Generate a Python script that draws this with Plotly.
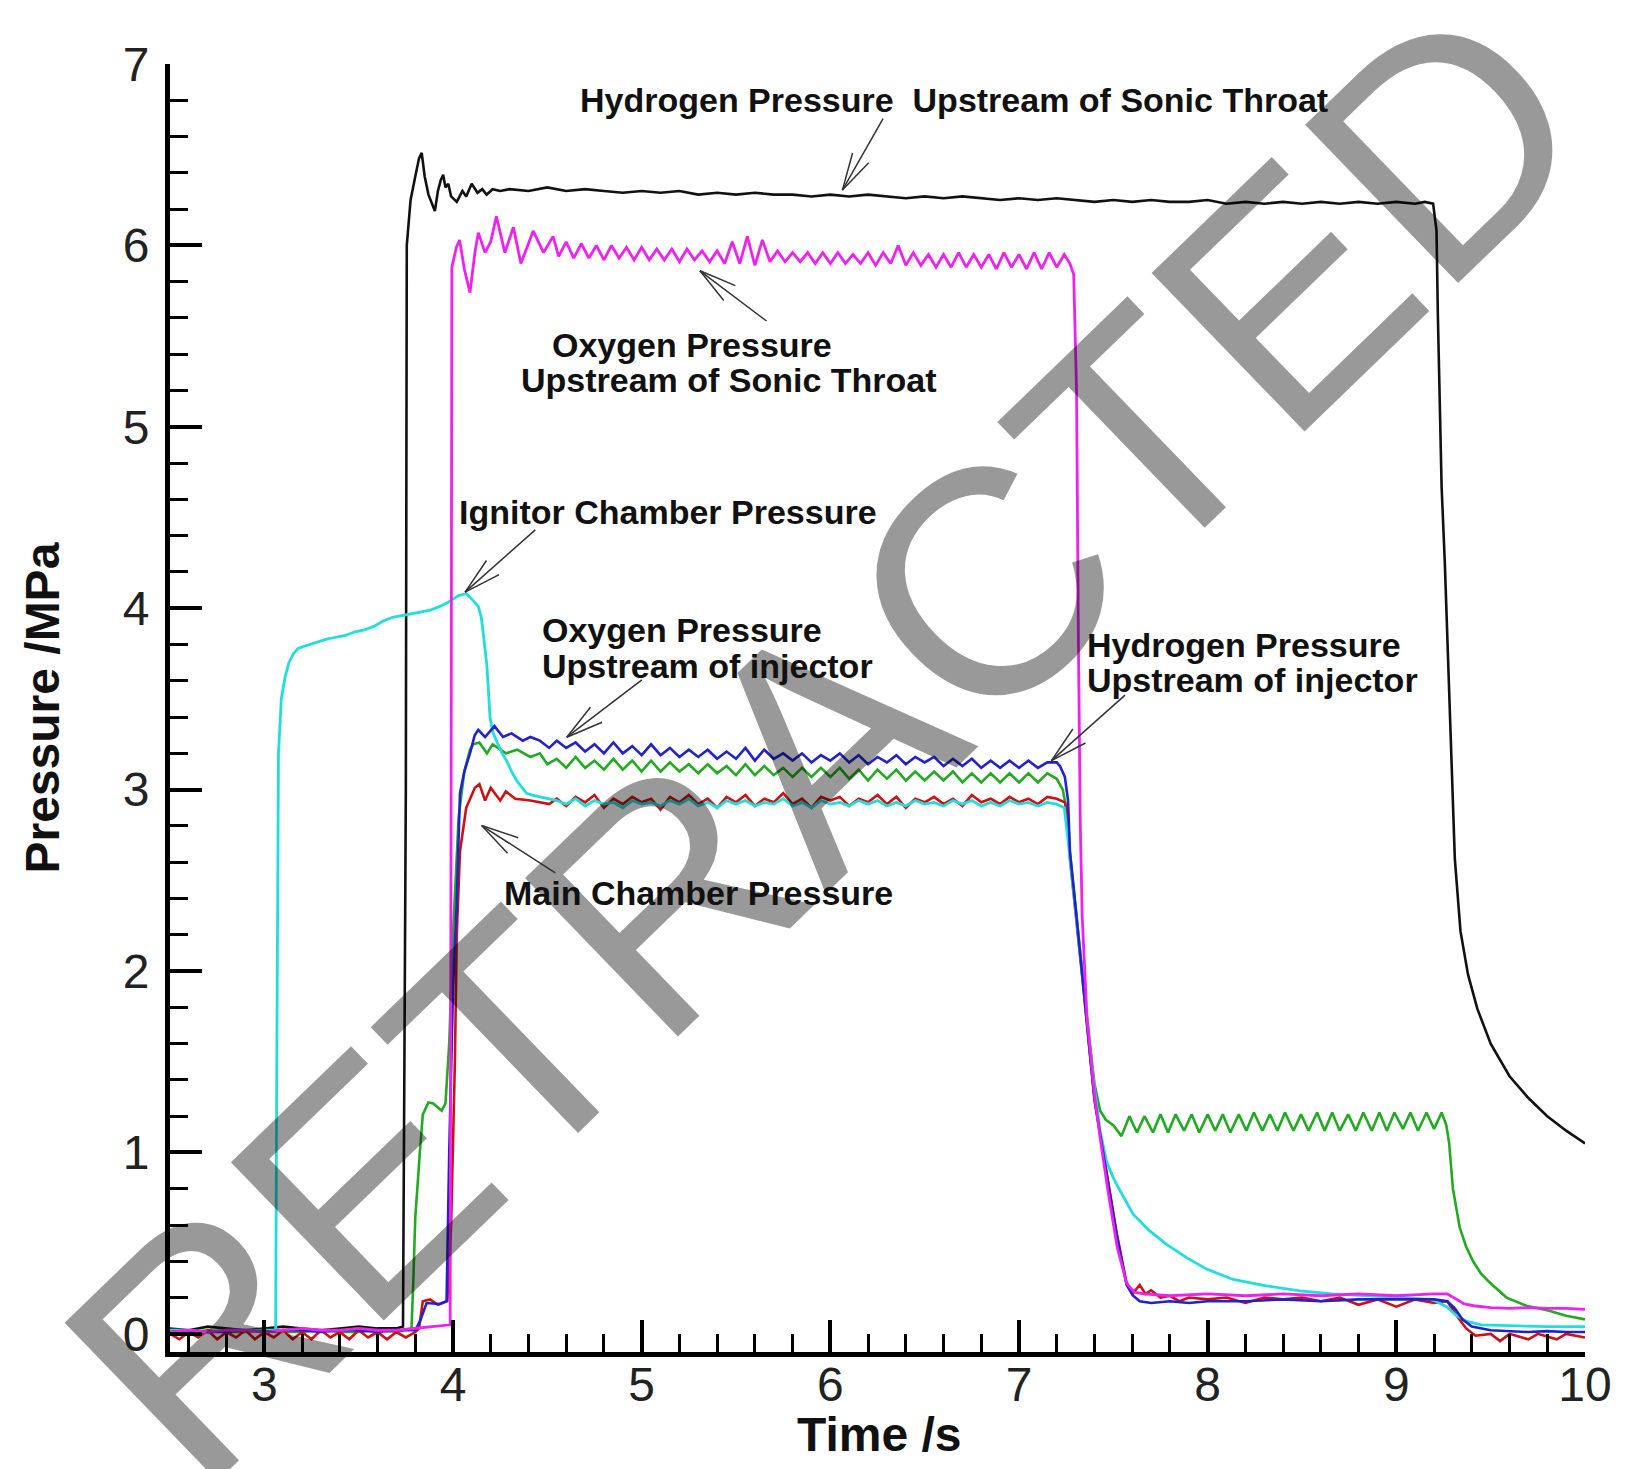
import math
import plotly.graph_objects as go

# ---------------- data ----------------
# shared time grid for the injector / chamber plateaus
T_PLAT = [4.55, 4.60, 4.65, 4.70, 4.75, 4.80, 4.85, 4.90, 4.95, 5.00,
          5.05, 5.10, 5.15, 5.20, 5.25, 5.30, 5.35, 5.40, 5.45, 5.50,
          5.55, 5.60, 5.65, 5.70, 5.75, 5.80, 5.85, 5.90, 5.95, 6.00,
          6.05, 6.10, 6.15, 6.20, 6.25, 6.30, 6.35, 6.40, 6.45, 6.50,
          6.55, 6.60, 6.65, 6.70, 6.75, 6.80, 6.85, 6.90, 6.95, 7.00,
          7.05, 7.10, 7.15, 7.20]

# Hydrogen pressure upstream of sonic throat (black)
BLACK_T_START = [2.50, 2.60, 2.70, 2.80, 2.90, 3.00, 3.10, 3.20, 3.30, 3.40, 3.50, 3.60, 3.70,
                 3.735, 3.750, 3.755, 3.775, 3.800, 3.820, 3.834, 3.850, 3.870, 3.885, 3.904,
                 3.920, 3.935, 3.948, 3.960, 3.975, 3.990, 4.020, 4.050, 4.070, 4.099, 4.130,
                 4.155, 4.178, 4.210, 4.250]
BLACK_P_START = [0.03, 0.02, 0.04, 0.03, 0.02, 0.03, 0.04, 0.03, 0.02, 0.03, 0.04, 0.03, 0.03,
                 0.04, 3.00, 6.00, 6.25, 6.38, 6.48, 6.51, 6.38, 6.28, 6.24, 6.19,
                 6.30, 6.36, 6.39, 6.32, 6.34, 6.27, 6.24, 6.30, 6.27, 6.34, 6.29,
                 6.31, 6.28, 6.31, 6.30]
BLACK_T_PLAT = [4.30, 4.40, 4.50, 4.60, 4.70, 4.80, 4.90, 5.00, 5.10, 5.20,
                5.30, 5.40, 5.50, 5.60, 5.70, 5.80, 5.90, 6.00, 6.10, 6.20,
                6.30, 6.40, 6.50, 6.60, 6.70, 6.80, 6.90, 7.00, 7.10, 7.20,
                7.30, 7.40, 7.50, 7.60, 7.70, 7.80, 7.90, 8.00, 8.10, 8.20,
                8.30, 8.40, 8.50, 8.60, 8.70, 8.80, 8.90, 9.00, 9.10]
BLACK_P_PLAT = [6.31, 6.30, 6.32, 6.30, 6.31, 6.30, 6.29, 6.30, 6.29, 6.30,
                6.28, 6.29, 6.28, 6.29, 6.28, 6.28, 6.27, 6.28, 6.27, 6.28,
                6.27, 6.26, 6.27, 6.26, 6.27, 6.26, 6.25, 6.26, 6.25, 6.26,
                6.25, 6.24, 6.25, 6.24, 6.25, 6.24, 6.24, 6.25, 6.23, 6.24,
                6.23, 6.24, 6.23, 6.24, 6.23, 6.24, 6.23, 6.24, 6.23]
BLACK_T_END = [9.15, 9.195, 9.205, 9.213, 9.220, 9.230, 9.240, 9.257, 9.266, 9.274,
               9.290, 9.310, 9.340, 9.380, 9.430, 9.500, 9.600, 9.700, 9.800, 9.900, 10.00]
BLACK_P_END = [6.24, 6.23, 6.16, 6.08, 5.62, 5.11, 4.67, 4.25, 3.97, 3.82,
               3.30, 2.62, 2.22, 1.98, 1.79, 1.60, 1.42, 1.30, 1.20, 1.12, 1.05]

# Oxygen pressure upstream of sonic throat (magenta)
MAG_T_START = [2.50, 2.60, 2.70, 2.80, 2.90, 3.00, 3.10, 3.20, 3.30, 3.40, 3.50, 3.60, 3.70,
               3.80, 3.90, 3.985, 3.990, 3.994, 4.018, 4.035, 4.060, 4.090, 4.116, 4.134,
               4.170, 4.200, 4.230, 4.275, 4.320, 4.360, 4.425, 4.480, 4.530]
MAG_P_START = [0.01, 0.02, 0.01, 0.02, 0.02, 0.01, 0.02, 0.03, 0.02, 0.02, 0.03, 0.02, 0.02,
               0.03, 0.04, 0.05, 3.00, 5.88, 5.99, 6.03, 5.87, 5.74, 5.96, 6.07,
               5.96, 6.02, 6.16, 5.96, 6.10, 5.90, 6.08, 5.96, 6.05]
MAG_T_PLAT = [4.56, 4.60, 4.64, 4.68, 4.72, 4.76, 4.80, 4.84, 4.88, 4.92,
              4.96, 5.00, 5.04, 5.08, 5.12, 5.16, 5.20, 5.24, 5.28, 5.32,
              5.36, 5.40, 5.44, 5.48, 5.52, 5.56, 5.60, 5.64, 5.68, 5.72,
              5.76, 5.80, 5.84, 5.88, 5.92, 5.96, 6.00, 6.04, 6.08, 6.12,
              6.16, 6.20, 6.24, 6.28, 6.32, 6.36, 6.40, 6.44, 6.48, 6.52,
              6.56, 6.60, 6.64, 6.68, 6.72, 6.76, 6.80, 6.84, 6.88, 6.92,
              6.96, 7.00, 7.04, 7.08, 7.12, 7.16, 7.20, 7.24]
MAG_P_PLAT = [5.94, 6.02, 5.93, 6.01, 5.93, 6.00, 5.92, 6.00, 5.93, 5.99,
              5.92, 5.99, 5.92, 5.98, 5.92, 5.98, 5.91, 5.98, 5.92, 5.97,
              5.91, 5.97, 5.90, 6.02, 5.90, 6.05, 5.89, 6.03, 5.91, 5.97,
              5.91, 5.96, 5.91, 5.96, 5.90, 5.96, 5.90, 5.96, 5.90, 5.95,
              5.90, 5.96, 5.89, 5.96, 5.90, 6.00, 5.89, 5.96, 5.89, 5.95,
              5.88, 5.95, 5.88, 5.96, 5.88, 5.95, 5.88, 5.95, 5.87, 5.96,
              5.88, 5.95, 5.87, 5.96, 5.87, 5.96, 5.88, 5.95]
MAG_T_END = [7.270, 7.290, 7.305, 7.315, 7.325, 7.335, 7.360, 7.400, 7.430, 7.470,
             7.520, 7.570, 7.610, 7.660, 7.800, 8.000, 8.200, 8.400, 8.600, 8.800,
             9.000, 9.200, 9.270, 9.320, 9.360, 9.410, 9.500, 9.600, 9.700, 9.800,
             9.900, 10.00]
MAG_P_END = [5.90, 5.84, 5.20, 3.80, 2.80, 2.30, 1.75, 1.32, 1.08, 0.80,
             0.48, 0.28, 0.23, 0.22, 0.21, 0.22, 0.21, 0.22, 0.21, 0.22,
             0.21, 0.22, 0.22, 0.19, 0.165, 0.155, 0.145, 0.14, 0.145, 0.14,
             0.14, 0.135]

# Ignitor chamber pressure (cyan)
CYAN_T_START = [2.50, 2.60, 2.70, 2.80, 2.90, 3.00, 3.060, 3.066, 3.075, 3.090,
                3.110, 3.130, 3.155, 3.180, 3.210, 3.240, 3.280, 3.330, 3.380, 3.430,
                3.480, 3.530, 3.580, 3.630, 3.680, 3.730, 3.780, 3.830, 3.880, 3.930,
                3.970, 4.000, 4.030, 4.070, 4.100, 4.134, 4.150, 4.165, 4.180, 4.196,
                4.210, 4.230, 4.260, 4.284, 4.310, 4.337, 4.360, 4.390, 4.420, 4.460, 4.500]
CYAN_P_START = [0.02, 0.02, 0.01, 0.02, 0.02, 0.02, 0.02, 1.50, 3.20, 3.50,
                3.62, 3.70, 3.75, 3.78, 3.79, 3.80, 3.81, 3.83, 3.84, 3.85,
                3.87, 3.88, 3.90, 3.93, 3.95, 3.96, 3.97, 3.98, 3.99, 4.01,
                4.03, 4.05, 4.07, 4.08, 4.05, 4.01, 3.95, 3.82, 3.68, 3.40,
                3.32, 3.27, 3.20, 3.16, 3.10, 3.05, 3.02, 2.98, 2.97, 2.96, 2.95]
CYAN_P_PLAT = [2.94, 2.92, 2.95, 2.91, 2.94, 2.92, 2.93, 2.90, 2.94, 2.92,
               2.93, 2.91, 2.94, 2.92, 2.95, 2.91, 2.93, 2.90, 2.94, 2.92,
               2.94, 2.91, 2.93, 2.92, 2.95, 2.91, 2.93, 2.90, 2.94, 2.92,
               2.93, 2.91, 2.94, 2.92, 2.94, 2.91, 2.93, 2.91, 2.94, 2.92,
               2.93, 2.91, 2.94, 2.92, 2.94, 2.91, 2.93, 2.91, 2.94, 2.92,
               2.93, 2.91, 2.93, 2.92]
CYAN_T_END = [7.240, 7.260, 7.300, 7.340, 7.375, 7.400, 7.430, 7.464, 7.500, 7.535,
              7.605, 7.690, 7.780, 7.888, 7.994, 8.135, 8.310, 8.490, 8.660, 8.840,
              9.000, 9.190, 9.266, 9.320, 9.370, 9.450, 9.600, 9.800, 10.00]
CYAN_P_END = [2.90, 2.72, 2.32, 1.95, 1.58, 1.35, 1.12, 0.95, 0.86, 0.79,
              0.66, 0.57, 0.495, 0.42, 0.357, 0.30, 0.265, 0.237, 0.22, 0.21,
              0.20, 0.19, 0.15, 0.10, 0.07, 0.05, 0.045, 0.04, 0.04]

# Oxygen pressure upstream of injector (blue)
BLUE_T_START = [2.50, 2.60, 2.70, 2.80, 2.90, 3.00, 3.10, 3.20, 3.30, 3.40, 3.50, 3.60, 3.70,
                3.80, 3.825, 3.860, 3.930, 3.966, 3.980, 4.000, 4.020, 4.037, 4.060, 4.090,
                4.115, 4.134, 4.170, 4.220, 4.265, 4.310, 4.370, 4.410, 4.460, 4.510]
BLUE_P_START = [0.01, 0.02, 0.01, 0.01, 0.02, 0.01, 0.02, 0.02, 0.01, 0.02, 0.02, 0.01, 0.02,
                0.02, 0.07, 0.17, 0.165, 0.18, 1.00, 1.90, 2.39, 2.98, 3.10, 3.20,
                3.30, 3.33, 3.29, 3.35, 3.29, 3.31, 3.27, 3.29, 3.27, 3.23]
BLUE_P_PLAT = [3.27, 3.23, 3.26, 3.21, 3.25, 3.20, 3.26, 3.20, 3.24, 3.19,
               3.25, 3.19, 3.23, 3.18, 3.22, 3.18, 3.22, 3.17, 3.21, 3.17,
               3.23, 3.16, 3.22, 3.17, 3.20, 3.16, 3.20, 3.15, 3.19, 3.16,
               3.20, 3.15, 3.19, 3.14, 3.18, 3.15, 3.19, 3.14, 3.18, 3.15,
               3.18, 3.13, 3.17, 3.13, 3.17, 3.12, 3.16, 3.12, 3.16, 3.12,
               3.16, 3.12, 3.15, 3.15]
BLUE_T_END = [7.217, 7.243, 7.260, 7.270, 7.305, 7.340, 7.375, 7.400, 7.430, 7.517,
              7.570, 7.605, 7.640, 7.700, 7.800, 7.900, 8.000, 8.200, 8.400, 8.600,
              8.800, 9.000, 9.200, 9.270, 9.310, 9.350, 9.400, 9.500, 9.600, 9.700,
              9.800, 9.900, 10.00]
BLUE_P_END = [3.13, 3.07, 2.94, 2.66, 2.30, 1.93, 1.56, 1.29, 1.10, 0.55,
              0.27, 0.21, 0.18, 0.17, 0.18, 0.17, 0.18, 0.18, 0.19, 0.18,
              0.19, 0.19, 0.19, 0.18, 0.14, 0.08, 0.04, 0.02, 0.015, 0.01,
              0.015, 0.01, 0.01]

# Hydrogen pressure upstream of injector (green)
GREEN_T_START = [2.50, 2.60, 2.70, 2.80, 2.90, 3.00, 3.10, 3.20, 3.30, 3.40, 3.50, 3.60, 3.70,
                 3.780, 3.790, 3.800, 3.825, 3.840, 3.870, 3.895, 3.940, 3.960, 3.980, 4.000,
                 4.030, 4.060, 4.090, 4.107, 4.140, 4.180, 4.210, 4.280, 4.340, 4.410, 4.460, 4.500]
GREEN_P_START = [0.01, 0.01, 0.02, 0.01, 0.01, 0.02, 0.01, 0.01, 0.02, 0.01, 0.01, 0.02, 0.01,
                 0.03, 0.30, 0.64, 1.01, 1.21, 1.276, 1.27, 1.23, 1.27, 1.60, 2.20,
                 2.85, 3.10, 3.22, 3.25, 3.26, 3.20, 3.25, 3.20, 3.22, 3.18, 3.20, 3.14]
GREEN_P_PLAT = [3.17, 3.12, 3.18, 3.12, 3.16, 3.11, 3.17, 3.11, 3.16, 3.10,
                3.16, 3.10, 3.15, 3.10, 3.14, 3.09, 3.14, 3.09, 3.13, 3.08,
                3.14, 3.08, 3.13, 3.08, 3.12, 3.07, 3.12, 3.07, 3.12, 3.07,
                3.12, 3.06, 3.11, 3.05, 3.11, 3.06, 3.11, 3.05, 3.10, 3.05,
                3.10, 3.05, 3.10, 3.04, 3.09, 3.04, 3.09, 3.04, 3.09, 3.04,
                3.09, 3.04, 3.09, 3.06]
GREEN_T_MID = [7.232, 7.250, 7.270, 7.305, 7.340, 7.375, 7.400, 7.430, 7.460, 7.500, 7.543]
GREEN_P_MID = [3.00, 2.90, 2.65, 2.30, 1.93, 1.60, 1.38, 1.23, 1.18, 1.15, 1.09]
GREEN_T_WAVE = [7.585, 7.625, 7.665, 7.710, 7.750, 7.790, 7.830, 7.875, 7.915, 7.955,
                8.000, 8.040, 8.080, 8.120, 8.165, 8.205, 8.245, 8.290, 8.330, 8.370,
                8.410, 8.455, 8.495, 8.535, 8.580, 8.620, 8.660, 8.700, 8.745, 8.785,
                8.825, 8.870, 8.910, 8.950, 8.990, 9.035, 9.075, 9.115, 9.160, 9.200, 9.240]
GREEN_P_WAVE = [1.20, 1.11, 1.20, 1.11, 1.21, 1.11, 1.21, 1.12, 1.21, 1.11,
                1.21, 1.12, 1.21, 1.11, 1.21, 1.12, 1.22, 1.12, 1.21, 1.12,
                1.22, 1.12, 1.21, 1.12, 1.22, 1.12, 1.22, 1.12, 1.21, 1.12,
                1.22, 1.12, 1.22, 1.12, 1.22, 1.13, 1.22, 1.12, 1.22, 1.13, 1.22]
GREEN_T_END = [9.265, 9.280, 9.300, 9.336, 9.370, 9.407, 9.450, 9.495, 9.584, 9.690,
               9.810, 9.900, 10.00]
GREEN_P_END = [1.15, 1.05, 0.80, 0.586, 0.48, 0.40, 0.33, 0.283, 0.20, 0.155,
               0.127, 0.10, 0.08]

# Main chamber pressure (red)
RED_T_START = [2.50, 2.55, 2.60, 2.65, 2.70, 2.75, 2.80, 2.85, 2.90, 2.95,
               3.00, 3.05, 3.10, 3.15, 3.20, 3.25, 3.30, 3.35, 3.40, 3.45,
               3.50, 3.55, 3.60, 3.65, 3.70, 3.75, 3.80, 3.820, 3.840, 3.878,
               3.920, 3.970, 3.990, 4.010, 4.020, 4.037, 4.070, 4.116, 4.140, 4.170,
               4.200, 4.250, 4.280, 4.330, 4.410, 4.510]
RED_P_START = [0.00, -0.03, 0.01, -0.02, 0.02, -0.03, 0.01, -0.02, 0.02, -0.03,
               0.01, -0.02, 0.02, -0.03, 0.01, -0.03, 0.02, -0.02, 0.01, -0.03,
               0.02, -0.02, 0.01, -0.03, 0.01, -0.02, 0.01, 0.03, 0.18, 0.19,
               0.16, 0.18, 0.60, 1.50, 2.20, 2.66, 2.90, 3.01, 3.03, 2.94,
               3.01, 2.94, 2.99, 2.95, 2.94, 2.92]
RED_P_PLAT = [2.95, 2.91, 2.96, 2.93, 2.97, 2.90, 2.95, 2.92, 2.96, 2.93,
              2.95, 2.89, 2.96, 2.93, 2.97, 2.92, 2.95, 2.90, 2.96, 2.93,
              2.97, 2.91, 2.95, 2.93, 2.98, 2.92, 2.95, 2.90, 2.96, 2.94,
              2.96, 2.91, 2.95, 2.93, 2.97, 2.92, 2.96, 2.90, 2.95, 2.93,
              2.96, 2.92, 2.95, 2.91, 2.97, 2.93, 2.95, 2.92, 2.96, 2.93,
              2.95, 2.92, 2.96, 2.95]
RED_T_END = [7.243, 7.260, 7.270, 7.305, 7.340, 7.375, 7.400, 7.430, 7.517, 7.570,
             7.600, 7.640, 7.670, 7.700, 7.750, 7.800, 7.850, 7.900, 8.000, 8.100,
             8.200, 8.300, 8.400, 8.500, 8.600, 8.700, 8.800, 8.900, 9.000, 9.100,
             9.200, 9.270, 9.320, 9.370, 9.420, 9.500, 9.550, 9.600, 9.700, 9.750,
             9.850, 9.900, 10.00]
RED_P_END = [2.93, 2.85, 2.62, 2.28, 1.92, 1.55, 1.30, 1.10, 0.56, 0.28,
             0.22, 0.27, 0.22, 0.24, 0.20, 0.21, 0.18, 0.20, 0.19, 0.20,
             0.17, 0.20, 0.19, 0.20, 0.18, 0.20, 0.16, 0.19, 0.15, 0.19,
             0.17, 0.18, 0.10, 0.03, -0.01, 0.00, -0.04, 0.00, -0.03, 0.00,
             -0.03, 0.00, -0.02]

# annotation labels: (text, x, y) data coords, left-anchored
LABELS = [
    ("Hydrogen Pressure\u00a0 Upstream of Sonic Throat", 4.662, 6.803),
    ("Oxygen Pressure", 4.514, 5.452),
    ("Upstream of Sonic Throat", 4.350, 5.257),
    ("Ignitor Chamber Pressure", 4.019, 4.528),
    ("Oxygen Pressure", 4.461, 3.878),
    ("Upstream of injector", 4.461, 3.684),
    ("Hydrogen Pressure", 7.349, 3.800),
    ("Upstream of injector", 7.349, 3.602),
    ("Main Chamber Pressure", 4.260, 2.432),
]
# arrows: (tip_x, tip_y, tail_x, tail_y) data coords
ARROWS = [
    (6.064, 6.305, 6.284, 6.707),
    (5.309, 5.860, 5.670, 5.577),
    (4.064, 4.089, 4.444, 4.439),
    (4.603, 3.289, 5.009, 3.611),
    (7.172, 3.160, 7.570, 3.528),
    (4.152, 2.802, 4.550, 2.536),
]

X_TITLE = "Time /s"
Y_TITLE = "Pressure /MPa"
WATERMARK = "RETRACTED"

# ---------------- figure ----------------
W, H = 1627, 1469
ML, MR, MT, MB = 170, 42, 64, 117
X0, X1 = 2.5, 10.0
Y0, Y1 = -0.1, 7.0
PXX = (W - ML - MR) / (X1 - X0)
PXY = (H - MT - MB) / (Y1 - Y0)


def join(*parts):
    out = []
    for p in parts:
        out += list(p)
    return out


SERIES = [
    ("H2 upstream of sonic throat", join(BLACK_T_START, BLACK_T_PLAT, BLACK_T_END),
     join(BLACK_P_START, BLACK_P_PLAT, BLACK_P_END), "#111111", 2.6),
    ("H2 upstream of injector", join(GREEN_T_START, T_PLAT, GREEN_T_MID, GREEN_T_WAVE, GREEN_T_END),
     join(GREEN_P_START, GREEN_P_PLAT, GREEN_P_MID, GREEN_P_WAVE, GREEN_P_END), "#22aa22", 2.6),
    ("Main chamber", join(RED_T_START, T_PLAT, RED_T_END),
     join(RED_P_START, RED_P_PLAT, RED_P_END), "#cc1111", 2.6),
    ("Ignitor chamber", join(CYAN_T_START, T_PLAT, CYAN_T_END),
     join(CYAN_P_START, CYAN_P_PLAT, CYAN_P_END), "#22dddd", 2.8),
    ("O2 upstream of injector", join(BLUE_T_START, T_PLAT, BLUE_T_END),
     join(BLUE_P_START, BLUE_P_PLAT, BLUE_P_END), "#2222cc", 2.6),
    ("O2 upstream of sonic throat", join(MAG_T_START, MAG_T_PLAT, MAG_T_END),
     join(MAG_P_START, MAG_P_PLAT, MAG_P_END), "#ee22ee", 2.8),
]

fig = go.Figure()
for name, t, p, color, lw in SERIES:
    if len(t) != len(p):
        print("length mismatch", name, len(t), len(p))
    fig.add_trace(go.Scatter(x=t, y=p, mode="lines", name=name, showlegend=False,
                             line=dict(color=color, width=lw)))

# watermark first (translucent black -> #999 on white, lets marks show through)
fig.add_annotation(x=0.463, y=0.4752, xref="paper", yref="paper", text=WATERMARK,
                   showarrow=False, xanchor="center", yanchor="middle", textangle=-44,
                   font=dict(family="Liberation Sans, Arial, sans-serif", size=320,
                             color="rgba(0,0,0,0.4)"))

LABEL_FONT = dict(family="Liberation Sans, Arial, sans-serif", size=34, color="#111111")
for text, x, y in LABELS:
    fig.add_annotation(x=x, y=y, xref="x", yref="y", text="<b>" + text + "</b>",
                       showarrow=False, xanchor="left", yanchor="middle", font=LABEL_FONT)

HEAD = 40
SPREAD = 0.25
for tx, ty, sx, sy in ARROWS:
    fig.add_annotation(x=tx, y=ty, xref="x", yref="y", ax=sx, ay=sy, axref="x", ayref="y",
                       text="", showarrow=True, arrowhead=0, arrowwidth=1.5,
                       arrowcolor="#333333", standoff=0, startstandoff=0)
    dxp = (sx - tx) * PXX
    dyp = -(sy - ty) * PXY
    ang = math.atan2(dyp, dxp)
    for d in (-SPREAD, SPREAD):
        a = ang + d
        fig.add_annotation(x=tx, y=ty, xref="x", yref="y",
                           ax=HEAD * math.cos(a), ay=HEAD * math.sin(a),
                           text="", showarrow=True, arrowhead=0, arrowwidth=1.5,
                           arrowcolor="#333333", standoff=0, startstandoff=0)

TITLE_FONT = dict(family="Liberation Sans, Arial, sans-serif", size=48, color="#111111")
fig.add_annotation(x=0.5014, y=-0.0644, xref="paper", yref="paper", text="<b>" + X_TITLE + "</b>",
                   showarrow=False, xanchor="center", yanchor="middle", font=TITLE_FONT)
fig.add_annotation(x=-0.0908, y=0.5, xref="paper", yref="paper", text="<b>" + Y_TITLE + "</b>",
                   showarrow=False, xanchor="center", yanchor="middle", textangle=-90,
                   font=TITLE_FONT)

TICK_FONT = dict(family="Liberation Sans, Arial, sans-serif", size=48, color="#222222")
axis_common = dict(showgrid=False, zeroline=False, showline=True, linecolor="black",
                   linewidth=5, ticks="inside", ticklen=32, tickwidth=4, tickcolor="black",
                   tickfont=TICK_FONT, mirror=False,
                   minor=dict(ticks="inside", ticklen=18, tickwidth=2.5, tickcolor="black",
                              dtick=0.2, tick0=0, showgrid=False))
fig.update_xaxes(range=[X0, X1], dtick=1, tick0=0, ticklabelstandoff=-14, **axis_common)
fig.update_yaxes(range=[Y0, Y1], dtick=1, tick0=0, ticklabelstandoff=6, **axis_common)

fig.update_layout(width=W, height=H, margin=dict(l=ML, r=MR, t=MT, b=MB, autoexpand=False),
                  paper_bgcolor="white", plot_bgcolor="white", showlegend=False)

fig.write_html("out.html")
